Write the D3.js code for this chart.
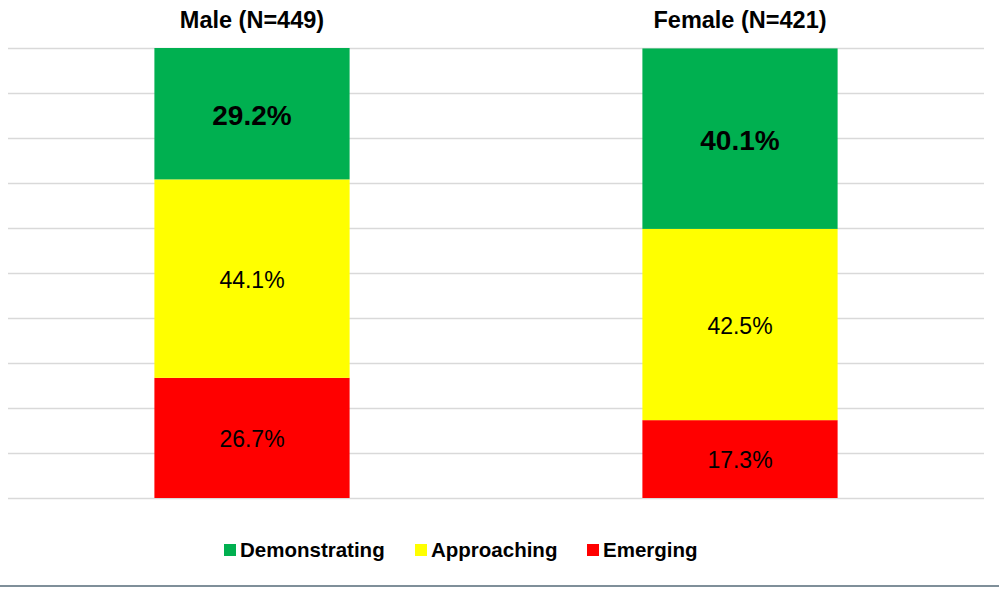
<!doctype html>
<html lang="en">
<head>
  <meta charset="utf-8">
  <style>
    body { margin: 0; background: #fff; }
    svg text { font-family: "Liberation Sans", Arial, sans-serif; }
  </style>
</head>
<body>
  <script src="https://d3js.org/d3.v7.min.js"></script>
  <div id="chart"></div>
  <script>
    // data
    var groups = ["Male (N=449)", "Female (N=421)"];
    var levels = ["Demonstrating", "Approaching", "Emerging"];
    var demonstrating = [29.2, 40.1];
    var approaching = [44.1, 42.5];
    var emerging = [26.7, 17.3];
    var levelColors = ["#00b050", "#ffff00", "#ff0000"];
    var yTicks = [0, 10, 20, 30, 40, 50, 60, 70, 80, 90, 100];

    var width = 999, height = 590;
    var svg = d3.select("#chart").append("svg")
      .attr("width", width).attr("height", height);

    var x = d3.scaleBand().domain(groups).range([8, 984])
      .paddingInner(0.6).paddingOuter(0.3);
    var y = d3.scaleLinear().domain([0, 100]).range([498, 48]);

    // gridlines
    svg.append("g").selectAll("line").data(yTicks).enter().append("line")
      .attr("x1", 8).attr("x2", 984)
      .attr("y1", function(d) { return Math.round(y(d)) + 0.5; })
      .attr("y2", function(d) { return Math.round(y(d)) + 0.5; })
      .attr("stroke", "#d9d9d9").attr("stroke-width", 1.5);

    // stack, bottom to top: Emerging, Approaching, Demonstrating
    var rows = groups.map(function(g, i) {
      return { group: g, Emerging: emerging[i], Approaching: approaching[i], Demonstrating: demonstrating[i] };
    });
    var stack = d3.stack().keys(["Emerging", "Approaching", "Demonstrating"]);
    var series = stack(rows);
    var color = d3.scaleOrdinal().domain(levels).range(levelColors);

    var layer = svg.append("g").selectAll("g").data(series).enter().append("g")
      .attr("fill", function(s) { return color(s.key); });

    layer.selectAll("rect").data(function(s) { return s; }).enter().append("rect")
      .attr("x", function(d) { return x(d.data.group); })
      .attr("width", x.bandwidth())
      .attr("y", function(d) { return y(d[1]); })
      .attr("height", function(d) { return y(d[0]) - y(d[1]); });

    // value labels
    layer.each(function(s) {
      var bold = s.key === "Demonstrating";
      d3.select(this).selectAll("text").data(s).enter().append("text")
        .attr("x", function(d) { return x(d.data.group) + x.bandwidth() / 2; })
        .attr("y", function(d) { return (y(d[0]) + y(d[1])) / 2 + (bold ? 11 : 9); })
        .attr("text-anchor", "middle")
        .attr("fill", "#000")
        .attr("font-size", bold ? 28 : 23)
        .attr("font-weight", bold ? "bold" : "normal")
        .text(function(d) { return (d[1] - d[0]).toFixed(1) + "%"; });
    });

    // group labels on top
    svg.append("g").selectAll("text").data(groups).enter().append("text")
      .attr("x", function(d) { return x(d) + x.bandwidth() / 2; })
      .attr("y", 28)
      .attr("text-anchor", "middle")
      .attr("font-size", 23.5).attr("font-weight", "bold")
      .text(function(d) { return d; });

    // legend
    var legendX = [224, 415, 587];
    var legend = svg.append("g").selectAll("g").data(levels).enter().append("g")
      .attr("transform", function(d, i) { return "translate(" + legendX[i] + ",544)"; });
    legend.append("rect").attr("width", 12).attr("height", 12)
      .attr("fill", function(d) { return color(d); });
    legend.append("text").attr("x", 16).attr("y", 13)
      .attr("font-size", 20.5).attr("font-weight", "bold")
      .text(function(d) { return d; });

    // bottom border
    svg.append("line").attr("x1", 0).attr("x2", width)
      .attr("y1", 586).attr("y2", 586)
      .attr("stroke", "#7f8f99").attr("stroke-width", 2);
  </script>
</body>
</html>
